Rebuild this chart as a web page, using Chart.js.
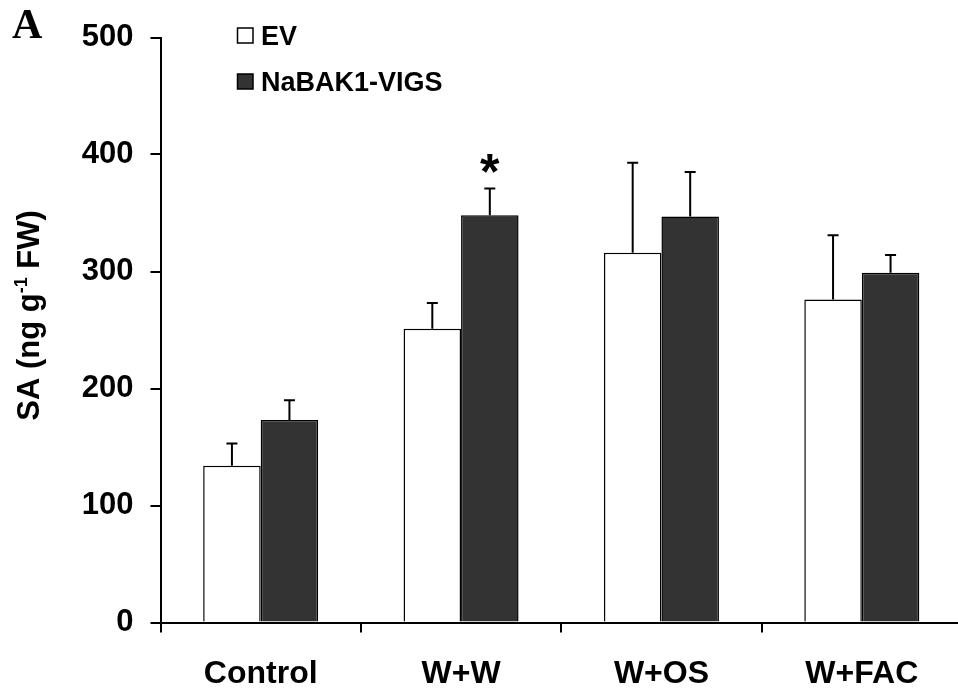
<!DOCTYPE html>
<html>
<head>
<meta charset="utf-8">
<script src="https://cdn.jsdelivr.net/npm/chart.js@4/dist/chart.umd.min.js"></script>
<style>
  html, body { margin: 0; padding: 0; background: #ffffff; overflow: hidden; }
  #wrap { width: 966px; height: 693px; }
</style>
</head>
<body>
<div id="wrap"><canvas id="c" width="966" height="693"></canvas></div>
<script>
// ---- data ----
const categories = ["Control", "W+W", "W+OS", "W+FAC"];
const seriesNames = ["EV", "NaBAK1-VIGS"];
const evValues = [134, 251, 316, 276];
const evErrors = [19, 22, 77, 55];
const nabValues = [173, 348, 347, 299];
const nabErrors = [17, 23, 38, 15];
const nabSignificance = ["", "*", "", ""];
const yTickValues = [0, 100, 200, 300, 400, 500];
const yTitleMain = "SA (ng g";
const yTitleSup = "-1";
const yTitleEnd = " FW)";
const panelLabel = "A";

const FONT = "'Liberation Sans', Arial, sans-serif";

const errorBarPlugin = {
  id: 'errorBars',
  afterDatasetsDraw(chart) {
    const ctx = chart.ctx;
    const yScale = chart.scales.y;
    chart.data.datasets.forEach((ds, di) => {
      const meta = chart.getDatasetMeta(di);
      meta.data.forEach((el, i) => {
        const v = ds.data[i];
        const e = ds.errors[i];
        const yTop = yScale.getPixelForValue(v + e);
        ctx.save();
        ctx.strokeStyle = '#000';
        ctx.lineWidth = 2;
        ctx.beginPath();
        ctx.moveTo(el.x, el.y);
        ctx.lineTo(el.x, yTop);
        ctx.moveTo(el.x - 5.5, yTop);
        ctx.lineTo(el.x + 5.5, yTop);
        ctx.stroke();
        if (ds.significance && ds.significance[i]) {
          ctx.fillStyle = '#000';
          ctx.font = "bold 50px " + FONT;
          ctx.textAlign = 'center';
          ctx.textBaseline = 'alphabetic';
          const m = ctx.measureText(ds.significance[i]);
          const cy = yTop - 25;
          ctx.fillText(ds.significance[i], el.x, cy + m.actualBoundingBoxAscent - (m.actualBoundingBoxAscent + m.actualBoundingBoxDescent) / 2);
        }
        ctx.restore();
      });
    });
  },
  afterDraw(chart) {
    const ctx = chart.ctx;
    // legend
    chart.data.datasets.forEach((ds, di) => {
      const y0 = 28 + di * 46;
      ctx.save();
      ctx.fillStyle = ds.backgroundColor;
      ctx.fillRect(237.5, y0, 15.5, 15);
      ctx.strokeStyle = '#000';
      ctx.lineWidth = 1.5;
      ctx.strokeRect(237.5, y0, 15.5, 15);
      ctx.fillStyle = '#000';
      ctx.font = "bold 27px " + FONT;
      ctx.textAlign = 'left';
      ctx.textBaseline = 'alphabetic';
      ctx.fillText(ds.label, 261, y0 + 17);
      ctx.restore();
    });
    // y-axis title with superscript
    ctx.save();
    ctx.translate(28, 315.5);
    ctx.rotate(-Math.PI / 2);
    ctx.fillStyle = '#000';
    ctx.textBaseline = 'alphabetic';
    ctx.textAlign = 'left';
    const mainFont = "bold 31px " + FONT;
    const supFont = "bold 18px " + FONT;
    ctx.font = mainFont;
    const w1 = ctx.measureText(yTitleMain).width;
    const w3 = ctx.measureText(yTitleEnd).width;
    ctx.font = supFont;
    const w2 = ctx.measureText(yTitleSup).width;
    const total = w1 + w2 + w3;
    let x = -total / 2;
    const base = 11;
    ctx.font = mainFont;
    ctx.fillText(yTitleMain, x, base);
    x += w1;
    ctx.font = supFont;
    ctx.fillText(yTitleSup, x, base - 12);
    x += w2;
    ctx.font = mainFont;
    ctx.fillText(yTitleEnd, x, base);
    ctx.restore();
    // panel label
    ctx.save();
    ctx.fillStyle = '#000';
    ctx.font = "bold 42px 'Liberation Serif', 'Times New Roman', serif";
    ctx.textBaseline = 'alphabetic';
    ctx.textAlign = 'left';
    ctx.fillText(panelLabel, 12, 37.5);
    ctx.restore();
  }
};

new Chart(document.getElementById('c'), {
  type: 'bar',
  data: {
    labels: categories,
    datasets: [
      {
        label: seriesNames[0],
        data: evValues,
        errors: evErrors,
        backgroundColor: '#ffffff',
        borderColor: '#000000',
        borderWidth: 1.5,
        barPercentage: 1.0,
        categoryPercentage: 0.574
      },
      {
        label: seriesNames[1],
        data: nabValues,
        errors: nabErrors,
        significance: nabSignificance,
        backgroundColor: '#333333',
        borderColor: '#000000',
        borderWidth: 1.5,
        barPercentage: 1.0,
        categoryPercentage: 0.574
      }
    ]
  },
  options: {
    responsive: false,
    animation: false,
    devicePixelRatio: 1,
    layout: { padding: { top: 37.5, right: 4, left: 0, bottom: 0 } },
    plugins: {
      legend: { display: false },
      tooltip: { enabled: false }
    },
    scales: {
      x: {
        offset: true,
        grid: {
          offset: true,
          drawOnChartArea: false,
          drawTicks: true,
          tickLength: 10,
          color: '#000',
          lineWidth: 2
        },
        border: { display: true, color: '#000', width: 2 },
        ticks: {
          color: '#000',
          font: { family: FONT, size: 32, weight: 'bold' },
          padding: 22,
          maxRotation: 0
        },
        afterFit(scale) { scale.height = 70.5; }
      },
      y: {
        min: 0,
        max: 500,
        afterBuildTicks(scale) { scale.ticks = yTickValues.map(v => ({ value: v })); },
        grid: {
          drawOnChartArea: false,
          drawTicks: true,
          tickLength: 10,
          color: '#000',
          lineWidth: 2
        },
        border: { display: true, color: '#000', width: 2 },
        ticks: {
          color: '#000',
          font: { family: FONT, size: 31, weight: 'bold' },
          padding: 17
        },
        afterFit(scale) { scale.width = 160.5; }
      }
    }
  },
  plugins: [errorBarPlugin]
});
</script>
</body>
</html>
